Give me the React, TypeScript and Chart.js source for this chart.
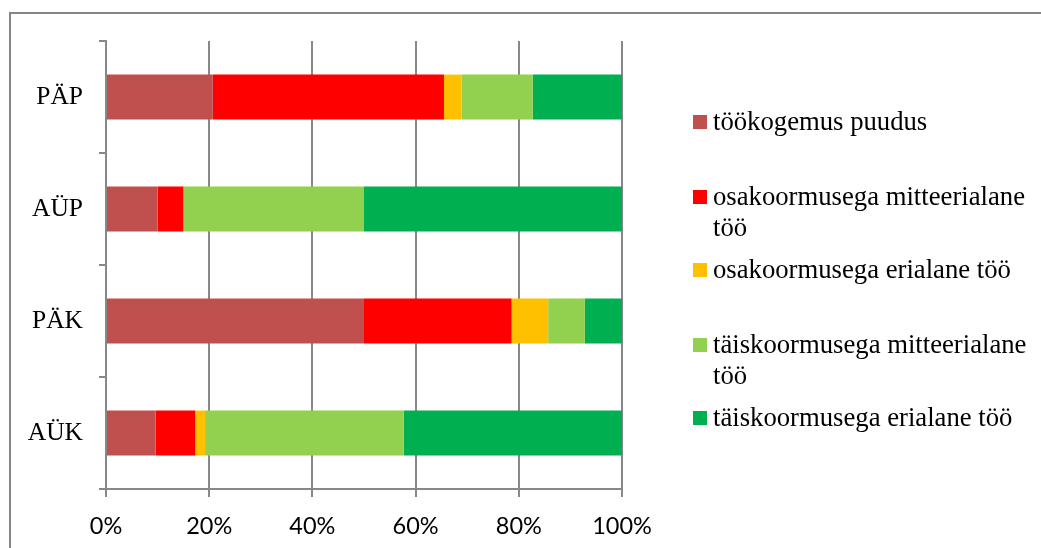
import React, { useEffect, useRef } from "react";
import { Chart, registerables } from "chart.js";

Chart.register(...registerables);

const categories = ["PÄP", "AÜP", "PÄK", "AÜK"];
const seriesNames = [
  "töökogemus puudus",
  "osakoormusega mitteerialane töö",
  "osakoormusega erialane töö",
  "täiskoormusega mitteerialane töö",
  "täiskoormusega erialane töö",
];
const legendLines = [
  ["töökogemus puudus"],
  ["osakoormusega mitteerialane", "töö"],
  ["osakoormusega erialane töö"],
  ["täiskoormusega mitteerialane", "töö"],
  ["täiskoormusega erialane töö"],
];
const colors = ["#C0504D", "#FF0000", "#FFC000", "#92D050", "#00B050"];
const noExperience = [20.7, 10, 50, 9.6];
const partTimeOther = [44.8, 5, 28.6, 7.7];
const partTimeSpecial = [3.4, 0, 7.1, 1.9];
const fullTimeOther = [13.8, 35, 7.1, 38.5];
const fullTimeSpecial = [17.3, 50, 7.2, 42.3];
const seriesValues = [noExperience, partTimeOther, partTimeSpecial, fullTimeOther, fullTimeSpecial];
const xTicks = [0, 20, 40, 60, 80, 100];

const GRID = "#888888";
const legendTops = [106, 181, 254, 329, 402];
const CANVAS_W = 720;

export default function App() {
  const ref = useRef<HTMLCanvasElement | null>(null);
  useEffect(() => {
    if (!ref.current) return;
    const chart = new Chart(ref.current, {
      type: "bar",
      data: {
        labels: categories,
        datasets: seriesNames.map((name, i) => ({
          label: name,
          data: seriesValues[i],
          backgroundColor: colors[i],
          borderWidth: 0,
          barPercentage: 0.4,
          categoryPercentage: 1,
        })),
      },
      options: {
        indexAxis: "y",
        animation: false,
        responsive: false,
        maintainAspectRatio: false,
        layout: { padding: { top: 41, right: CANVAS_W - 622, left: 0, bottom: 0 } },
        plugins: { legend: { display: false }, tooltip: { enabled: false } },
        scales: {
          x: {
            stacked: true,
            min: 0,
            max: 100,
            afterBuildTicks: (scale: any) => {
              scale.ticks = xTicks.map((v) => ({ value: v }));
            },
            afterFit: (scale: any) => {
              scale.height = 59;
            },
            ticks: {
              callback: (v: any) => v + "%",
              font: { family: "Lato", size: 23.5 },
              color: "#000",
              padding: 15,
              maxRotation: 0,
            },
            grid: { color: GRID, lineWidth: 2, tickLength: 8, drawOnChartArea: true },
            border: { color: GRID, width: 2 },
          },
          y: {
            stacked: true,
            afterFit: (scale: any) => {
              scale.width = 106;
            },
            ticks: {
              font: { family: "'Liberation Serif', 'Times New Roman', serif", size: 25.5 },
              color: "#000",
              padding: 16,
            },
            grid: { color: GRID, lineWidth: 2, tickLength: 7, drawOnChartArea: false, offset: true },
            border: { color: GRID, width: 2 },
          },
        },
      },
    });
    return () => chart.destroy();
  }, []);

  return (
    <div
      style={{
        position: "fixed",
        left: 0,
        top: 0,
        width: 1041,
        height: 548,
        overflow: "hidden",
        background: "#fff",
      }}
    >
      <div
        style={{
          position: "absolute",
          left: 9,
          top: 12,
          width: 1100,
          height: 600,
          border: "2px solid #868686",
          boxSizing: "border-box",
        }}
      />
      <canvas
        ref={ref}
        width={CANVAS_W}
        height={548}
        style={{ position: "absolute", left: 0, top: 0, width: CANVAS_W, height: 548 }}
      />
      {legendLines.map((lines, i) => (
        <div
          key={i}
          style={{
            position: "absolute",
            left: 693,
            top: legendTops[i],
            fontFamily: "'Liberation Serif', 'Times New Roman', serif",
            fontSize: 26.7,
            lineHeight: "31px",
            color: "#000",
            whiteSpace: "nowrap",
          }}
        >
          <span
            style={{
              position: "absolute",
              left: 0,
              top: 9,
              width: 14,
              height: 14,
              background: colors[i],
            }}
          />
          <div style={{ marginLeft: 20 }}>
            {lines.map((l, j) => (
              <div key={j}>{l}</div>
            ))}
          </div>
        </div>
      ))}
    </div>
  );
}
